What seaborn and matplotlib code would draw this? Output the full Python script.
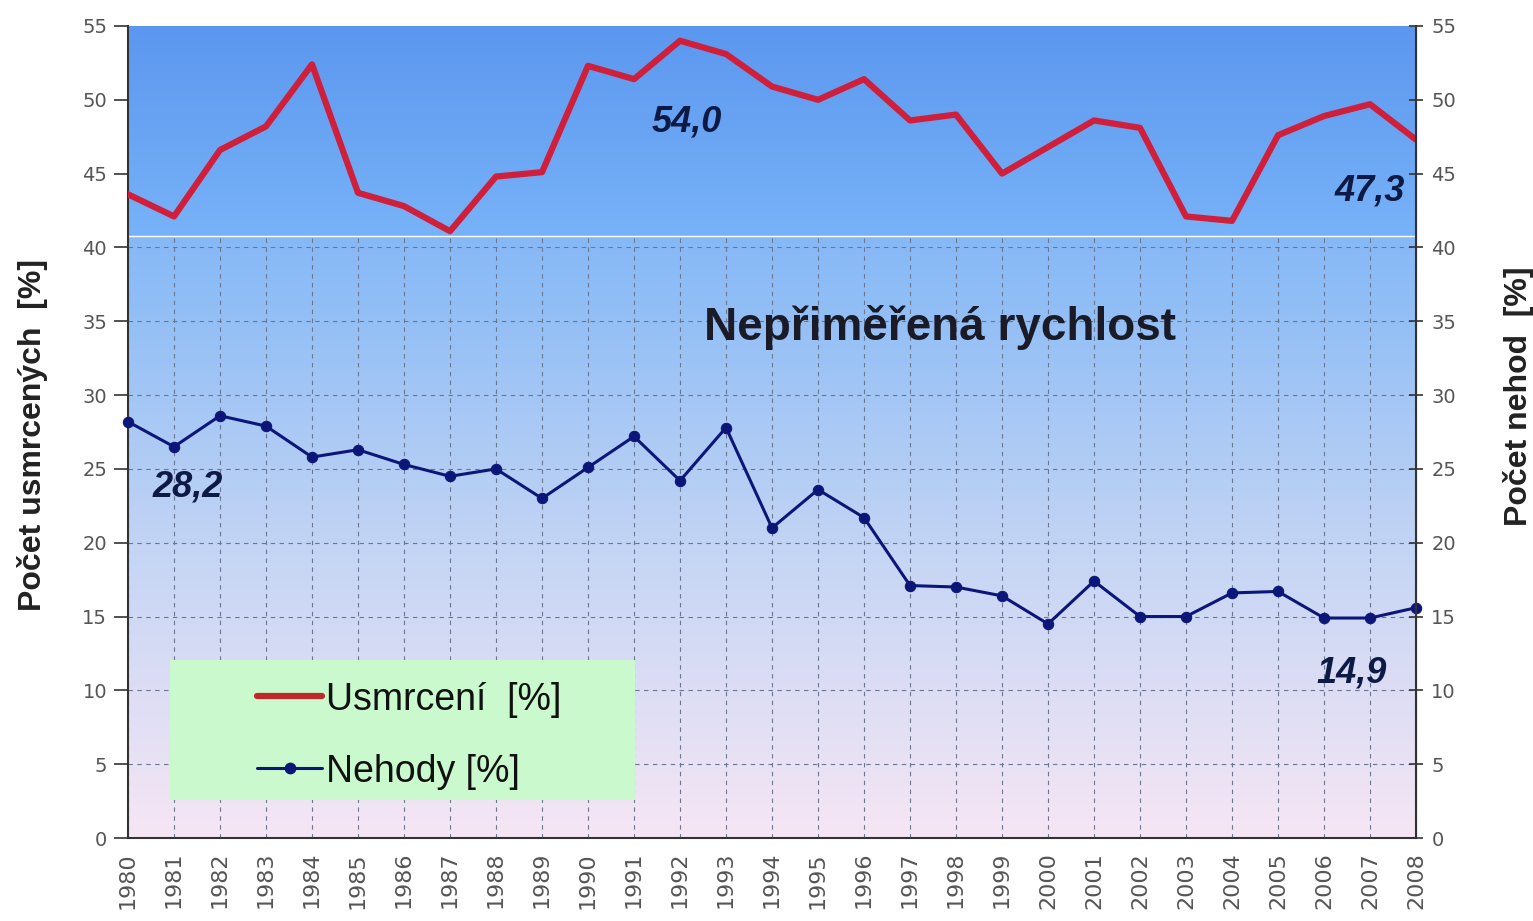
import numpy as np
import pandas as pd
import matplotlib
matplotlib.use("Agg")
import matplotlib.pyplot as plt
from matplotlib.colors import LinearSegmentedColormap
from matplotlib.lines import Line2D
from matplotlib.patches import Rectangle
import seaborn as sns

# --- data ---
roky = list(range(1980, 2009))
usmrceni = [43.6, 42.1, 46.6, 48.2, 52.4, 43.7, 42.8, 41.1, 44.8, 45.1,
            52.3, 51.4, 54.0, 53.1, 50.9, 50.0, 51.4, 48.6, 49.0, 45.0,
            46.8, 48.6, 48.1, 42.1, 41.8, 47.6, 48.9, 49.7, 47.3]
nehody = [28.2, 26.5, 28.6, 27.9, 25.8, 26.3, 25.3, 24.5, 25.0, 23.0,
          25.1, 27.2, 24.2, 27.8, 21.0, 23.6, 21.7, 17.1, 17.0, 16.4,
          14.5, 17.4, 15.0, 15.0, 16.6, 16.7, 14.9, 14.9, 15.6]
y_ticks = list(range(0, 60, 5))

df = pd.DataFrame({"rok": roky, "usmrceni": usmrceni, "nehody": nehody})

sns.set_style("white")
plt.rcParams["font.family"] = ["Liberation Sans", "DejaVu Sans"]

fig = plt.figure(figsize=(15.33, 9.21), dpi=100)
ax = fig.add_axes([0.0835, 0.0901, 0.8402, 0.8817])

# pozadi - prechod z modre do svetle ruzove
grad = LinearSegmentedColormap.from_list(
    "bg", ["#f6e6f4", "#c7d6f4", "#8fbdf6", "#6aa8f6"])
ax.imshow(np.linspace(0, 1, 256).reshape(-1, 1), aspect="auto", cmap=grad,
          origin="lower", extent=[1980, 2008, 0, 55], zorder=0)
ax.grid(True, color="#6b7790", linestyle=(0, (4, 4)), linewidth=0.8, zorder=1)
# horni pas bez mrizky
top = LinearSegmentedColormap.from_list("top", ["#78b2f8", "#5b97ef"])
ax.imshow(np.linspace(0, 1, 256).reshape(-1, 1), aspect="auto", cmap=top,
          origin="lower", extent=[1980, 2008, 40.8, 55], zorder=1.5)
ax.axhline(40.8, color="white", lw=1, zorder=1.6)

sns.lineplot(data=df, x="rok", y="usmrceni", ax=ax, color="#d01f3a",
             linewidth=4.5, zorder=3)
sns.lineplot(data=df, x="rok", y="nehody", ax=ax, color="#0c1678",
             linewidth=2.2, marker="o", markersize=7.5, markeredgecolor="#0c1678",
             zorder=3, clip_on=False)

ax.set_xlim(1980, 2008)
ax.set_ylim(0, 55)
ax.set_xticks(roky)
ax.set_xticklabels([str(r) for r in roky], rotation=90, fontsize=16,
                   color="#555555", family="DejaVu Sans")
ax.set_yticks(y_ticks)
ax.set_yticklabels([str(t) for t in y_ticks], fontsize=14, color="#555555",
                   family="DejaVu Sans")
ax.tick_params(axis="y", direction="out", length=10, width=1.2, pad=5, color="#333333")
ax.tick_params(axis="x", direction="out", length=6, width=1.2, pad=4, color="#333333")
ax.set_xlabel("")
ax.set_ylabel("Počet usmrcených  [%]", fontsize=23, fontweight="bold", color="#222222")
ax.yaxis.set_label_coords(-0.062, 0.496)
for s in ["left", "bottom"]:
    ax.spines[s].set_color("#333333")
    ax.spines[s].set_linewidth(1.5)
ax.spines["top"].set_visible(False)

ax2 = ax.twinx()
ax2.set_ylim(0, 55)
ax2.set_yticks(y_ticks)
ax2.set_yticklabels([str(t) for t in y_ticks], fontsize=14, color="#555555",
                    family="DejaVu Sans")
ax2.tick_params(axis="y", direction="inout", length=10, width=1.2, pad=6, color="#333333")
ax2.set_ylabel("Počet nehod  [%]", fontsize=23, fontweight="bold", color="#222222")
ax2.yaxis.set_label_coords(1.0675, 0.544)
ax2.spines["right"].set_color("#333333")
ax2.spines["right"].set_linewidth(1.5)
for s in ["left", "bottom", "top"]:
    ax2.spines[s].set_visible(False)

# popisky hodnot
lab = dict(fontsize=26, fontweight="bold", fontstyle="italic", color="#0d1a45", zorder=4)
ax.text(1992.15, 48.5, "54,0", ha="center", va="center", **lab)
ax.text(2007.75, 43.8, "47,3", ha="right", va="center", **lab)
ax.text(1981.3, 23.8, "28,2", ha="center", va="center", **lab)
ax.text(2006.6, 11.2, "14,9", ha="center", va="center", **lab)
ax.text(1997.65, 34.6, "Nepřiměřená rychlost", ha="center", va="center",
        fontsize=33, fontweight="bold", color="#1b1b28", zorder=4)

# legenda na zelenem podkladu
ax.add_patch(Rectangle((1980.91, 2.57), 10.11, 9.49, facecolor="#c9f9cc",
                       edgecolor="none", zorder=4.5))
handles = [Line2D([], [], color="#c0282a", lw=4.5),
           Line2D([], [], color="#0c1678", lw=2.2, marker="o", markersize=7.5)]
leg = ax.legend(handles, ["Usmrcení  [%]", "Nehody [%]"], loc="upper left",
                bbox_to_anchor=(1982.8, 10.6), bbox_transform=ax.transData,
                fontsize=27, frameon=False, handlelength=1.75, handletextpad=0.1,
                borderpad=0, labelspacing=0.96, borderaxespad=0)
leg.set_zorder(5)
for t in leg.get_texts():
    t.set_color("#111111")

fig.savefig("out.png", dpi=100)
